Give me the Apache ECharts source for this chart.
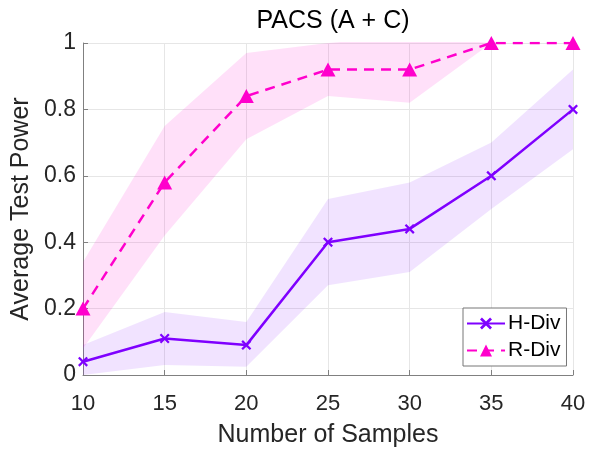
<!DOCTYPE html>
<html>
<head>
<meta charset="utf-8">
<script src="https://cdn.jsdelivr.net/npm/echarts@6/dist/echarts.min.js"></script>
<style>
  html, body { margin: 0; padding: 0; background: #fff; }
  #chart { width: 589px; height: 454px; }
</style>
</head>
<body>
<div id="chart"></div>
<script>
// number of samples (x axis)
const samples = ['10', '15', '20', '25', '30', '35', '40'];
// H-Div mean and band
const hMean = [0.04, 0.11, 0.09, 0.40, 0.44, 0.60, 0.80];
const hLow  = [0.00, 0.03, 0.025, 0.27, 0.31, 0.50, 0.68];
const hHigh = [0.09, 0.19, 0.16, 0.53, 0.58, 0.70, 0.92];
// R-Div mean and band
const rMean = [0.20, 0.58, 0.84, 0.92, 0.92, 1.00, 1.00];
const rLow  = [0.08, 0.42, 0.71, 0.84, 0.82, 1.00, 1.00];
const rHigh = [0.34, 0.75, 0.97, 1.00, 1.02, 1.00, 1.00];
const yTicks = [0, 0.2, 0.4, 0.6, 0.8, 1];

const font = '"Liberation Sans", Arial, sans-serif';
const hColor = '#7f00ff';
const rColor = '#ff00cc';
const crossPath = 'path://M0,1.6L1.6,0L5,3.4L8.4,0L10,1.6L6.6,5L10,8.4L8.4,10L5,6.6L1.6,10L0,8.4L3.4,5Z';

function band(name, low, high, color) {
  return [{
    name: name + '-low', type: 'line', stack: name, data: low,
    symbol: 'none', lineStyle: { opacity: 0 }, silent: true, z: 1
  }, {
    name: name + '-band', type: 'line', stack: name,
    data: high.map((v, i) => +(v - low[i]).toFixed(4)),
    symbol: 'none', lineStyle: { opacity: 0 },
    areaStyle: { color: color, opacity: 1 }, silent: true, z: 1
  }];
}

const chart = echarts.init(document.getElementById('chart'));
chart.setOption({
  animation: false,
  textStyle: { fontFamily: font },
  title: {
    text: 'PACS (A + C)', left: 328, top: 4, textAlign: 'center',
    textStyle: { fontFamily: font, fontSize: 25, fontWeight: 'normal', color: '#000' }
  },
  grid: { left: 83, right: 16, top: 43, bottom: 79 },
  legend: {
    data: ['H-Div', 'R-Div'], orient: 'vertical', left: 463, top: 308,
    padding: [5, 6, 5, 3], itemGap: 6, itemWidth: 38, itemHeight: 15,
    borderColor: '#777', borderWidth: 1, backgroundColor: '#fff',
    textStyle: { fontFamily: font, fontSize: 21, color: '#000', padding: [0, 0, 0, -2] }
  },
  xAxis: {
    type: 'category', data: samples, boundaryGap: false,
    name: 'Number of Samples', nameLocation: 'middle', nameGap: 48,
    nameTextStyle: { fontFamily: font, fontSize: 25, color: '#262626' },
    axisLine: { lineStyle: { color: '#808080', width: 1 } },
    axisTick: { inside: true, length: 5, alignWithLabel: true, lineStyle: { color: '#808080' } },
    axisLabel: { fontFamily: font, fontSize: 22, color: '#262626', margin: 18 },
    splitLine: { show: true, lineStyle: { color: '#e6e6e6' } }
  },
  yAxis: {
    type: 'value', min: 0, max: 1, interval: 0.2,
    name: 'Average Test Power', nameLocation: 'middle', nameGap: 43,
    nameTextStyle: { fontFamily: font, fontSize: 25, color: '#262626' },
    axisLine: { show: true, lineStyle: { color: '#808080', width: 1 } },
    axisTick: { show: true, inside: true, length: 5, lineStyle: { color: '#808080' } },
    axisLabel: {
      fontFamily: font, fontSize: 23, color: '#262626', margin: 7,
      formatter: v => String(yTicks.find(t => Math.abs(t - v) < 1e-9) ?? v)
    },
    splitLine: { show: true, lineStyle: { color: '#e6e6e6' } }
  },
  series: [
    ...band('H', hLow, hHigh, 'rgba(127,0,255,0.11)'),
    ...band('R', rLow, rHigh, 'rgba(255,0,204,0.12)'),
    {
      name: 'H-Div', type: 'line', data: hMean, z: 3,
      symbol: crossPath, symbolSize: 10,
      lineStyle: { color: hColor, width: 2.5 },
      itemStyle: { color: hColor }
    },
    {
      name: 'R-Div', type: 'line', data: rMean, z: 4,
      symbol: 'triangle', symbolSize: [15, 14],
      lineStyle: { color: rColor, width: 2.5, type: [10, 7] },
      itemStyle: { color: rColor }
    }
  ]
});
</script>
</body>
</html>
